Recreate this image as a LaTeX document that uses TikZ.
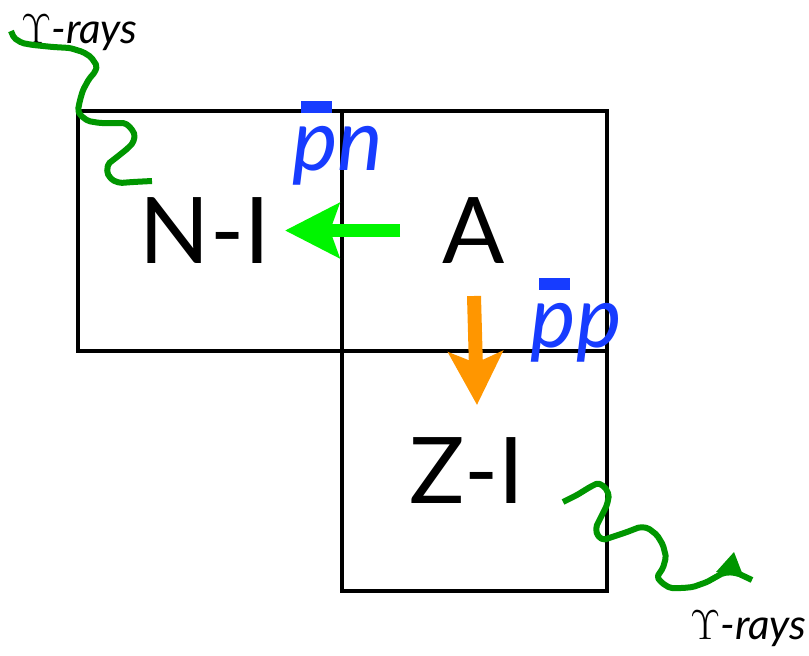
\documentclass[tikz,border=0pt]{standalone}
\usepackage{fix-cm}
\usepackage{fontspec}
\setmainfont{Lato}
\usetikzlibrary{arrows.meta}
\definecolor{pblue}{RGB}{23,60,255}
\definecolor{agreen}{RGB}{0,245,0}
\definecolor{aorange}{RGB}{255,150,0}
\definecolor{wgreen}{RGB}{0,150,0}
\newcommand\barpp{\rlap{\hspace{0.1em}\rule[0.66em]{0.36em}{0.14em}}p}
\begin{document}
\begin{tikzpicture}[x=1pt,y=-1pt,
  boxline/.style={line width=4.5pt,black},
  biglabel/.style={font=\fontsize{92}{92}\selectfont,anchor=base,inner sep=0pt},
  reaction/.style={font=\fontsize{86}{86}\selectfont\itshape,text=pblue,anchor=base,inner sep=0pt},
  raylabel/.style={font=\fontsize{42}{42}\selectfont,anchor=base west,inner sep=0pt},
  wave/.style={line width=6pt,wgreen,line join=round,rounded corners=2pt},
  flowarrow/.style={line width=13pt}]
\useasboundingbox (0,0) rectangle (809,656);
% boxes
\draw[boxline] (78,111) rectangle (607,351);
\draw[boxline] (342,111) rectangle (607,591);
% labels
\node[biglabel] (ni) at (205,263) {N-I};
\node[biglabel] (a) at (474,263) {A};
\node[biglabel] (zi) at (467,503) {Z-I};
\node[reaction] (pn) at (338,170) {\barpp n};
\node[reaction] (pp) at (576,347) {\barpp p};
% arrows
\coordinate (gs) at (400,230.5);
\coordinate (ge) at (285,230.5);
\draw[flowarrow,agreen,-{Stealth[length=54pt,width=54pt,inset=9pt]}] (gs) -- (ge);
\coordinate (os) at (474,296);
\coordinate (oe) at (477,405);
\draw[line width=14pt,aorange,-{Stealth[length=53pt,width=54pt,inset=11pt]}] (os) -- (oe);
% gamma rays
\node[raylabel] (gtop) at (21,43) {$\Upsilon$\textit{-rays}};
\node[raylabel] (gbot) at (690,639) {$\Upsilon$\textit{-rays}};
\draw[wave] (11,31) -- (14,38) -- (22,43) -- (33,45) -- (53,47) -- (70,48) -- (83,52) -- (91,57) -- (97,66) -- (95,72) -- (89,79) -- (83,90) -- (80,100) -- (78,110) -- (80,115) -- (88,121) -- (100,123) -- (115,123) -- (125,123) -- (131,128) -- (135,135) -- (133,143) -- (127,149) -- (117,157) -- (108,164) -- (107,173) -- (112,180) -- (120,183) -- (133,182) -- (152,181);
\draw[wave] (563,502) -- (577,495) -- (590,487) -- (598,483) -- (605,487) -- (609,495) -- (607,505) -- (602,515) -- (596,527) -- (597,535) -- (603,540) -- (612,537) -- (627,532) -- (640,527) -- (648,528) -- (657,535) -- (663,545) -- (666,557) -- (663,568) -- (657,577) -- (662,583) -- (670,588) -- (683,588) -- (693,587) -- (707,582) -- (723,573) -- (735,572) -- (752,580);
\fill[wgreen] (716,572) -- (734,552) -- (744,578) -- cycle;
\end{tikzpicture}
\end{document}
